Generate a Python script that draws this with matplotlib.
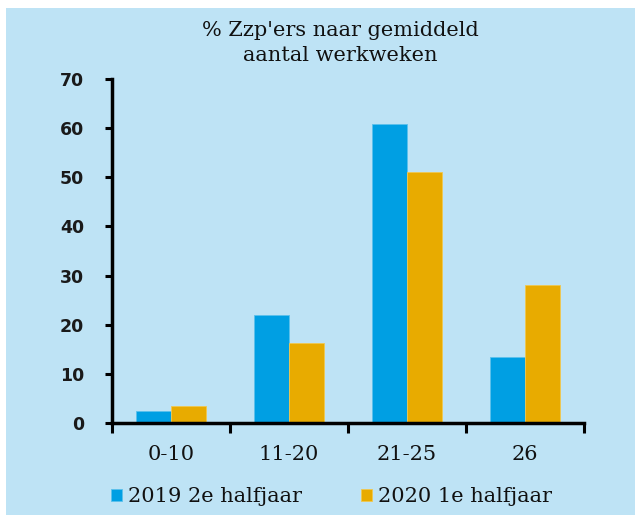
import matplotlib
matplotlib.use('Agg')
import matplotlib.pyplot as plt
import numpy as np
from matplotlib.patches import Rectangle

categories = ['0-10', '11-20', '21-25', '26']
series_2019 = [2.5, 22.0, 60.8, 13.4]
series_2020 = [3.5, 16.2, 51.0, 28.0]
labels = ['2019 2e halfjaar', '2020 1e halfjaar']
yticks = [0, 10, 20, 30, 40, 50, 60, 70]

bg = '#BEE3F5'
blue = '#009FE3'
gold = '#E8AB00'

fig = plt.figure(figsize=(6.35, 5.15), dpi=100)
fig.patch.set_facecolor('white')
fig.patches.append(Rectangle((6 / 635, 0), 1, 1 - 8 / 515, transform=fig.transFigure,
                             facecolor=bg, edgecolor='none', zorder=-10))

ax = fig.add_axes([111.7 / 635, (515 - 423) / 515, 472 / 635, (423 - 79) / 515])
ax.set_facecolor('none')

x = np.arange(len(categories))
w = 0.295
ax.bar(x - w / 2, series_2019, w, color=blue, edgecolor='#5CC0EC', linewidth=0.6, label=labels[0])
ax.bar(x + w / 2, series_2020, w, color=gold, edgecolor='#F0C850', linewidth=0.6, label=labels[1])

ax.set_xlim(-0.5, len(categories) - 0.5)
ax.set_ylim(0, 70)
ax.set_yticks(yticks)
ax.set_yticklabels([str(t) for t in yticks], fontsize=12.5, fontweight='bold',
                   color='#1a1a1a', family='DejaVu Sans')

ax.set_xticks(np.arange(len(categories) + 1) - 0.5)
ax.set_xticklabels([])
ax.set_xticks(x, minor=True)
ax.set_xticklabels(categories, minor=True, fontsize=15, family='DejaVu Serif', color='#111111')
ax.tick_params(axis='x', which='minor', length=0, pad=16)
ax.tick_params(axis='x', which='major', length=7, width=2.2, color='black')
ax.tick_params(axis='y', length=5, width=2.2, pad=15)

for s in ['top', 'right']:
    ax.spines[s].set_visible(False)
for s in ['left', 'bottom']:
    ax.spines[s].set_linewidth(2.5)
ax.spines['bottom'].set_bounds(-0.5, len(categories) - 0.5)

fig.text(0.536, 1 - 43 / 515, "% Zzp'ers naar gemiddeld\naantal werkweken", ha='center', va='center',
         fontsize=15, family='DejaVu Serif', color='#111111', linespacing=1.35)

leg = fig.legend(loc='center', bbox_to_anchor=(0.522, 1 - 497 / 515), ncol=2, frameon=False,
                 prop={'family': 'DejaVu Serif', 'size': 15}, handlelength=0.55, handleheight=0.55,
                 handletextpad=0.3, columnspacing=2.8)
for t in leg.get_texts():
    t.set_color('#111111')

fig.savefig('out.png', dpi=100, facecolor=fig.get_facecolor())
